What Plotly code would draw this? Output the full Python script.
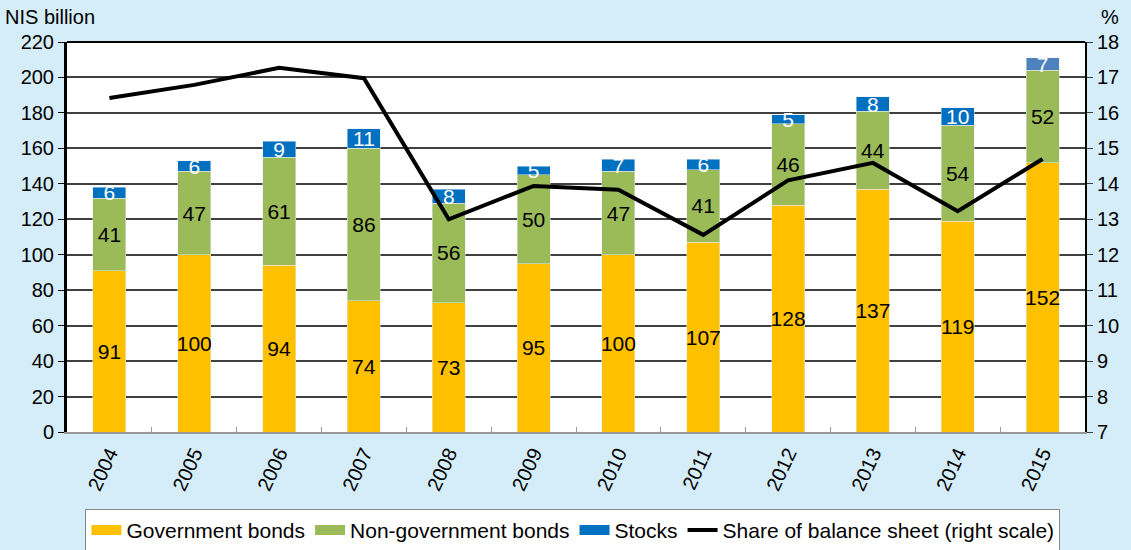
import plotly.graph_objects as go

years = ["2004", "2005", "2006", "2007", "2008", "2009", "2010", "2011", "2012", "2013", "2014", "2015"]
gov_bonds = [91, 100, 94, 74, 73, 95, 100, 107, 128, 137, 119, 152]
nongov_bonds = [41, 47, 61, 86, 56, 50, 47, 41, 46, 44, 54, 52]
stocks = [6, 6, 9, 11, 8, 5, 7, 6, 5, 8, 10, 7]
share_pct = [16.42, 16.79, 17.27, 16.98, 13.0, 13.94, 13.83, 12.56, 14.1, 14.59, 13.23, 14.7]

FONT = "Arial, Liberation Sans, sans-serif"
GOV_C, NONGOV_C, STOCK_C = "#FFC000", "#9BBB59", "#0070C0"
stock_colors = [STOCK_C] * 11 + ["#4F81BD"]

fig = go.Figure()
fig.add_trace(go.Bar(x=years, y=gov_bonds, name="Government bonds", marker_color=GOV_C,
                     text=gov_bonds, textposition="inside", insidetextanchor="middle",
                     textangle=0, constraintext="none", showlegend=False,
                     textfont=dict(color="black", size=21, family=FONT)))
fig.add_trace(go.Bar(x=years, y=nongov_bonds, name="Non-government bonds", marker_color=NONGOV_C,
                     text=nongov_bonds, textposition="inside", insidetextanchor="middle",
                     textangle=0, constraintext="none", showlegend=False,
                     textfont=dict(color="black", size=21, family=FONT)))
fig.add_trace(go.Bar(x=years, y=stocks, name="Stocks", marker_color=stock_colors,
                     text=stocks, textposition="inside", insidetextanchor="middle",
                     textangle=0, constraintext="none", showlegend=False,
                     textfont=dict(color="white", size=21, family=FONT)))
fig.add_trace(go.Scatter(x=years, y=share_pct, name="Share of balance sheet (right scale)",
                         mode="lines", line=dict(color="black", width=4), yaxis="y2",
                         showlegend=False))

# legend entries (wide rectangle swatches as in the original)
for nm, col, w in [("Government bonds", GOV_C, 12), ("Non-government bonds", NONGOV_C, 12),
                   ("Stocks", STOCK_C, 12), ("Share of balance sheet (right scale)", "black", 4)]:
    fig.add_trace(go.Scatter(x=[None], y=[None], name=nm, mode="lines",
                             line=dict(color=col, width=w), showlegend=True, hoverinfo="skip"))

fig.update_layout(
    width=1131, height=550,
    paper_bgcolor="#D5EDF9", plot_bgcolor="white",
    barmode="stack", bargap=0.61,
    margin=dict(l=67, r=46, t=42, b=118, autoexpand=False),
    font=dict(family=FONT, size=20, color="black"),
    showlegend=True,
    legend=dict(orientation="h", x=0.497, xanchor="center", y=-0.197, yanchor="top",
                bgcolor="white", bordercolor="#888888", borderwidth=1,
                font=dict(size=21, family=FONT), traceorder="normal",
                tracegroupgap=0),
    xaxis=dict(tickangle=-65, showgrid=False, linecolor="#999999", linewidth=2,
               ticks="inside", tickson="boundaries", ticklen=5, tickcolor="#999999",
               tickfont=dict(size=20), mirror=False, automargin=False),
    yaxis=dict(range=[0, 220], dtick=20, showgrid=True, gridcolor="#404040", gridwidth=1.5,
               showline=True, linecolor="black", linewidth=3, ticks="outside", ticklen=6,
               tickcolor="black", tickfont=dict(size=20), zeroline=False, automargin=False),
    yaxis2=dict(range=[7, 18], dtick=1, overlaying="y", side="right", showgrid=False,
                showline=True, linecolor="black", linewidth=2, ticks="outside", ticklen=6,
                tickcolor="#404040", tickfont=dict(size=20), zeroline=False, automargin=False),
    annotations=[
        dict(text="NIS billion", xref="paper", yref="paper", x=-0.063, y=1.03,
             xanchor="left", yanchor="bottom", showarrow=False, font=dict(size=20)),
        dict(text="%", xref="paper", yref="paper", x=1.025, y=1.03,
             xanchor="center", yanchor="bottom", showarrow=False, font=dict(size=20)),
    ],
    shapes=[dict(type="line", xref="paper", yref="paper", x0=0, x1=1, y0=1, y1=1,
                 line=dict(color="black", width=2))],
)

fig.write_html("out.html", config={"displayModeBar": False},
               post_script="document.body.style.margin='0';document.body.style.padding='0';")
